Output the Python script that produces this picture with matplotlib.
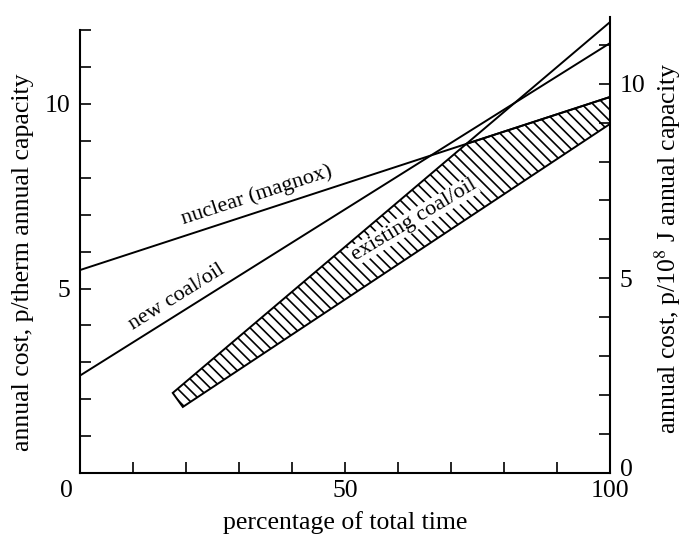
import numpy as np
import matplotlib
matplotlib.use("Agg")
import matplotlib.pyplot as plt
from matplotlib.ticker import FixedLocator, FixedFormatter
import matplotlib.transforms as mtransforms

plt.rcParams['font.family'] = ['Liberation Serif', 'DejaVu Serif']
plt.rcParams['mathtext.fontset'] = 'stix'
plt.rcParams['hatch.linewidth'] = 1.2

# data (x in % of total time, y in p/therm annual capacity)
nuclear_x = [0, 100]
nuclear_y = [5.50, 10.19]
newcoal_x = [0, 100]
newcoal_y = [2.64, 11.65]
# existing coal/oil band
exist_top_x = [17.5, 72.9, 100]
exist_top_y = [2.17, 8.92, 10.19]
exist_bot_x = [19.4, 100]
exist_bot_y = [1.79, 9.46]
# upper bound of existing plants carries on past the nuclear line
exist_max_x = [72.9, 100]
exist_max_y = [8.92, 12.22]

therm_to_1e8J = 1.055
x_ticks = np.arange(0, 101, 10)
x_labels = {0: '0', 50: '50', 100: '100'}
left_ticks = np.arange(0, 13, 1)
left_labels = {5: '5', 10: '10'}
right_ticks = np.arange(0, 12, 1)
right_labels = {0: '0', 5: '5', 10: '10'}

FS = 18.5     # axis text
FS_IN = 16    # labels inside the plot
fig = plt.figure(figsize=(6.85, 5.40), dpi=100)
ax = fig.add_axes([80/685, 67/540, 530/685, 455.7/540])
ymax = 455.7 / 36.9
ax.set_xlim(0, 100)
ax.set_ylim(0, ymax)

# band
poly_x = exist_top_x + exist_bot_x[::-1]
poly_y = exist_top_y + exist_bot_y[::-1]
ax.fill(poly_x, poly_y, facecolor='white', edgecolor='black', hatch='\\\\\\',
        linewidth=1.4, zorder=2)
ax.plot(exist_max_x, exist_max_y, color='black', lw=1.4, zorder=3)
ax.plot(nuclear_x, nuclear_y, color='black', lw=1.4, zorder=3)
ax.plot(newcoal_x, newcoal_y, color='black', lw=1.4, zorder=3)

ax.text(33.4, 7.53, 'nuclear (magnox)', rotation=18, fontsize=FS_IN,
        ha='center', va='center', rotation_mode='anchor')
ax.text(18.3, 4.77, 'new coal/oil', rotation=32, fontsize=FS_IN,
        ha='center', va='center', rotation_mode='anchor')
ax.text(63.0, 6.85, 'existing coal/oil', rotation=31, fontsize=FS_IN,
        ha='center', va='center', rotation_mode='anchor', zorder=4,
        bbox=dict(facecolor='white', edgecolor='none', pad=0.5))

# axes styling
for s in ['top', 'right']:
    ax.spines[s].set_visible(False)
ax.spines['left'].set_bounds(0, 12)
for s in ['left', 'bottom']:
    ax.spines[s].set_linewidth(1.5)

ax.xaxis.set_major_locator(FixedLocator(x_ticks))
ax.xaxis.set_major_formatter(FixedFormatter([x_labels.get(int(v), '') for v in x_ticks]))
ax.yaxis.set_major_locator(FixedLocator(left_ticks))
ax.yaxis.set_major_formatter(FixedFormatter([left_labels.get(int(v), '') for v in left_ticks]))
ax.tick_params(axis='both', direction='in', length=8, width=1.2, labelsize=FS)
ax.tick_params(axis='x', pad=5)
ax.tick_params(axis='y', pad=7)

# shift the x "0" label left as in the original
offset = mtransforms.ScaledTranslation(-14/100, 0, fig.dpi_scale_trans)
lbl0 = ax.get_xticklabels()[0]
lbl0.set_transform(lbl0.get_transform() + offset)

ax.set_xlabel('percentage of total time', fontsize=FS)
ax.xaxis.set_label_coords(0.5, -0.084)
ax.set_ylabel('annual cost, p/therm annual capacity', fontsize=FS)
ax.yaxis.set_label_coords(-0.087, 0.463)

ax2 = ax.twinx()
ax2.set_ylim(0, ymax / therm_to_1e8J)
for s in ['top', 'left', 'bottom']:
    ax2.spines[s].set_visible(False)
ax2.spines['right'].set_linewidth(1.5)
ax2.yaxis.set_major_locator(FixedLocator(right_ticks))
ax2.yaxis.set_major_formatter(FixedFormatter([right_labels.get(int(v), '') for v in right_ticks]))
ax2.tick_params(axis='y', direction='in', length=8, width=1.2, labelsize=FS, pad=7)
# raise the right "0" a little, as in the original
up = mtransforms.ScaledTranslation(0, 5/100, fig.dpi_scale_trans)
r0 = ax2.get_yticklabels()[0]
r0.set_transform(r0.get_transform() + up)
ax2.set_ylabel('annual cost, p/10$^{8}$ J annual capacity', fontsize=FS)
ax2.yaxis.set_label_coords(1.080, 0.494)

fig.savefig('out.png', dpi=100)
